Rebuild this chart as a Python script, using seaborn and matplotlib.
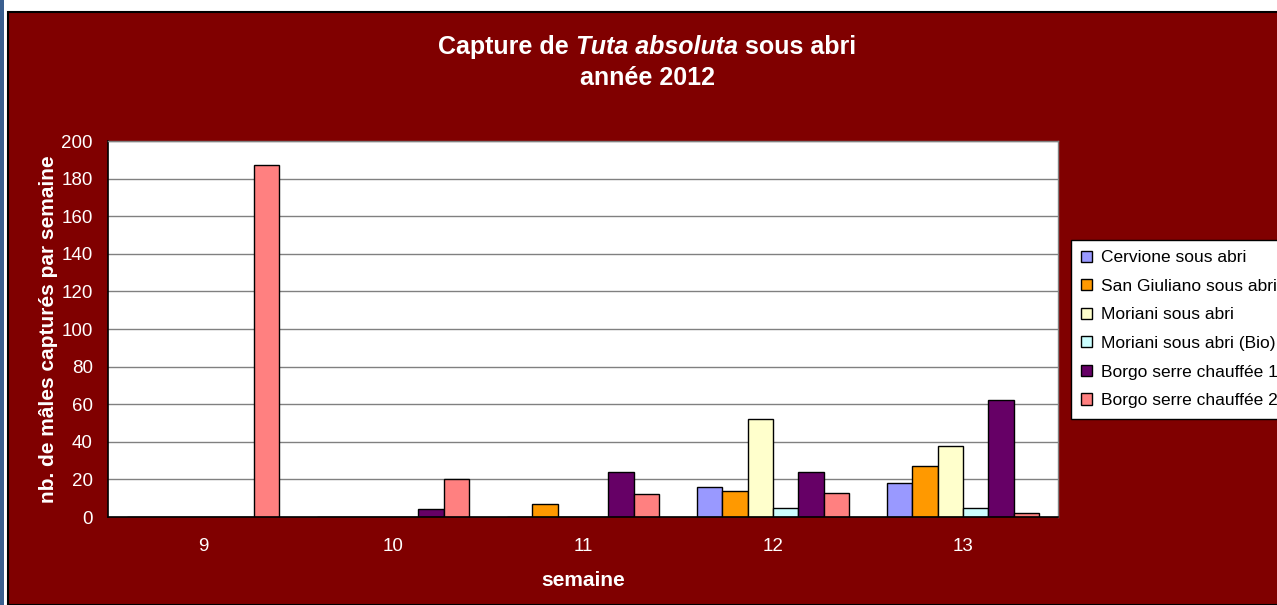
import pandas as pd
import matplotlib
matplotlib.use('Agg')
import matplotlib.pyplot as plt
from matplotlib.patches import Rectangle
import seaborn as sns

# Data
weeks = ['9', '10', '11', '12', '13']
sites = ['Cervione sous abri', 'San Giuliano sous abri', 'Moriani sous abri',
         'Moriani sous abri (Bio)', 'Borgo serre chauffée 1', 'Borgo serre chauffée 2']
cervione = [0, 0, 0, 16, 18]
san_giuliano = [0, 0, 7, 14, 27]
moriani = [0, 0, 0, 52, 38]
moriani_bio = [0, 0, 0, 5, 5]
borgo_1 = [0, 4, 24, 24, 62]
borgo_2 = [187, 20, 12, 13, 2]
colors = ['#9999FF', '#FF9900', '#FFFFCC', '#CCFFFF', '#660066', '#FF8080']

series = [cervione, san_giuliano, moriani, moriani_bio, borgo_1, borgo_2]
rows = []
for site, vals in zip(sites, series):
    for w, v in zip(weeks, vals):
        rows.append({'semaine': w, 'captures': v, 'site': site})
df = pd.DataFrame(rows)

sns.set_style('white')
plt.rcParams['font.family'] = ['Liberation Sans', 'DejaVu Sans']

W, H = 1277, 605
bg = '#800000'
fig = plt.figure(figsize=(W / 100, H / 100), dpi=100)
fig.patch.set_facecolor('white')

# outer frame: blue strip left, dark red panel (behind the axes)
fig.add_artist(Rectangle((0, 0), 4 / W, 1, transform=fig.transFigure,
                         facecolor='#3A5F8F', edgecolor='none', zorder=-2))
fig.add_artist(Rectangle((8 / W, 0), 1, 1 - 12 / H, transform=fig.transFigure,
                         facecolor=bg, edgecolor='black', linewidth=1.5, zorder=-1))

ax = fig.add_axes([108 / W, (H - 517) / H, 950 / W, 376 / H])
ax.set_facecolor('white')

sns.barplot(data=df, x='semaine', y='captures', hue='site', order=weeks,
            hue_order=sites, palette=colors, saturation=1, edgecolor='black',
            linewidth=1, width=0.8, ax=ax)

ax.set_ylim(0, 200)
ax.set_xlim(-0.5, 4.5)
ax.set_yticks(range(0, 201, 20))
ax.yaxis.grid(True, color='#808080', linewidth=1)
ax.set_axisbelow(True)
ax.set_xticks([x - 0.5 for x in range(6)], minor=True)
ax.tick_params(axis='x', which='major', length=0, colors='white', labelsize=13.5, pad=15)
ax.tick_params(axis='x', which='minor', length=5, width=1, color='black', direction='out')
ax.tick_params(axis='y', length=5, width=1, color='black', direction='out',
               labelcolor='white', labelsize=13.5, pad=6)
for s in ['left', 'bottom']:
    ax.spines[s].set_color('black')
    ax.spines[s].set_linewidth(1.2)
for s in ['top', 'right']:
    ax.spines[s].set_color('#808080')
    ax.spines[s].set_linewidth(1)

ax.set_xlabel('semaine', color='white', fontsize=15, fontweight='bold', labelpad=12)
ax.set_ylabel('nb. de mâles capturés par semaine', color='white', fontsize=15,
              fontweight='bold', labelpad=2.5)

leg = ax.legend(loc='upper left', bbox_to_anchor=(1071 / W, 1 - 240 / H),
                bbox_transform=fig.transFigure, frameon=True, fancybox=False,
                framealpha=1, fontsize=12.5, handlelength=0.6, handleheight=0.6,
                handletextpad=0.5, labelspacing=0.78, borderpad=0.6,
                borderaxespad=0)
leg.get_frame().set_edgecolor('black')
leg.get_frame().set_linewidth(1)
leg.get_frame().set_facecolor('white')
for t in leg.get_texts():
    t.set_color('black')

# title with italic species name, drawn piece by piece
fig.canvas.draw()
renderer = fig.canvas.get_renderer()
parts = [('Capture de ', 'normal'), ('Tuta absoluta', 'italic'), (' sous abri', 'normal')]
texts = []
for s, st in parts:
    t = fig.text(0, 1 - 47 / H, s, color='white', fontsize=18, fontweight='bold',
                 style=st, va='center', ha='left')
    texts.append(t)
widths = [t.get_window_extent(renderer).width for t in texts]
x = 647 - sum(widths) / 2
for t, w in zip(texts, widths):
    t.set_x(x / W)
    x += w
fig.text(647 / W, 1 - 78 / H, 'année 2012', color='white', fontsize=18,
         fontweight='bold', ha='center', va='center')

fig.savefig('out.png', dpi=100, facecolor=fig.get_facecolor())
